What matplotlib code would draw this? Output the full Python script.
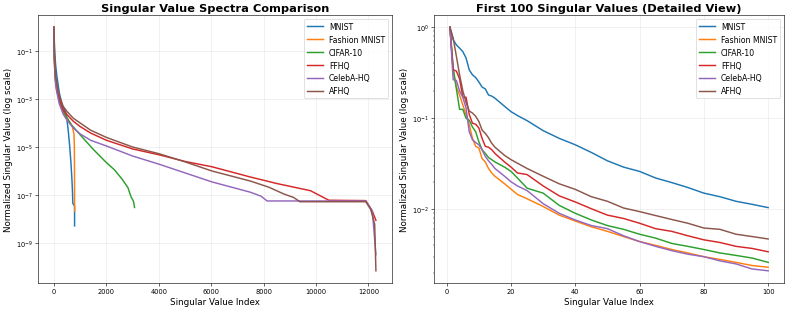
import numpy as np
import matplotlib
matplotlib.use('Agg')
from matplotlib import pyplot as plt

names = ['MNIST', 'Fashion MNIST', 'CIFAR-10', 'FFHQ', 'CelebA-HQ', 'AFHQ']

# full spectra, values read at a few indices
mnist_idx = [0, 10, 30, 60, 100, 200, 300, 400, 460, 530, 590, 640, 678, 700, 716, 782, 783]
mnist_val = [1.0, 0.25, 0.073, 0.026, 0.0104, 1.8e-3, 6.3e-4, 3.5e-4, 2.5e-4, 6.3e-5, 1.3e-5,
             2.5e-6, 5.2e-7, 1.6e-7, 4.4e-8, 3.5e-8, 5.1e-9]
fashion_idx = [0, 10, 30, 60, 100, 200, 345, 500, 600, 700, 760, 775, 780, 783]
fashion_val = [1.0, 0.047, 0.0107, 0.0044, 0.0023, 7.9e-4, 2.8e-4, 1.3e-4, 1.1e-4, 7.1e-5,
               3.5e-5, 1.0e-5, 1.0e-6, 2.1e-8]
cifar_idx = [0, 10, 30, 60, 100, 200, 345, 652, 1000, 1500, 2005, 2311, 2600, 2822, 2900,
             2950, 3000, 3040, 3071]
cifar_val = [1.0, 0.055, 0.015, 0.0053, 0.0026, 7.9e-4, 3.2e-4, 8.7e-5, 3.2e-5, 7.9e-6, 2.2e-6,
             1.1e-6, 4.5e-7, 2.0e-7, 1.1e-7, 7.8e-8, 6.3e-8, 5.0e-8, 3.0e-8]
ffhq_idx = [0, 10, 30, 60, 100, 200, 345, 500, 730, 1000, 1400, 2005, 3000, 4020, 5000, 6025,
            7492, 8500, 9789, 10172, 10490, 11900, 12150, 12287]
ffhq_val = [1.0, 0.078, 0.018, 0.0070, 0.0034, 1.1e-3, 3.6e-4, 2.2e-4, 1.2e-4, 7.1e-5, 3.8e-5,
            1.9e-5, 8.3e-6, 4.7e-6, 2.5e-6, 1.5e-6, 5.6e-7, 3.0e-7, 1.5e-7, 9.1e-8, 6.0e-8,
            5.8e-8, 2.1e-8, 8.7e-9]
celeba_idx = [0, 10, 30, 60, 100, 200, 345, 500, 730, 1000, 1400, 2005, 3000, 4020, 5000, 6025,
              7492, 7900, 8131, 11900, 12150, 12287]
celeba_val = [1.0, 0.051, 0.0115, 0.0044, 0.0021, 6.3e-4, 2.4e-4, 1.3e-4, 6.3e-5, 3.5e-5,
              1.9e-5, 1.1e-5, 4.2e-6, 1.9e-6, 8.3e-7, 3.5e-7, 1.3e-7, 8.9e-8, 5.6e-8, 5.6e-8,
              2.2e-8, 3.2e-10]
afhq_idx = [0, 10, 30, 60, 100, 200, 345, 500, 730, 1000, 1400, 2005, 3000, 4020, 5000, 6025,
            7492, 8200, 8768, 9151, 9381, 11900, 12087, 12240, 12287]
afhq_val = [1.0, 0.091, 0.023, 0.0094, 0.0047, 1.4e-3, 5.0e-4, 3.0e-4, 1.6e-4, 1.0e-4, 5.0e-5,
            2.5e-5, 1.0e-5, 5.2e-6, 2.4e-6, 1.0e-6, 3.8e-7, 2.1e-7, 1.1e-7, 7.8e-8, 5.2e-8,
            5.2e-8, 2.5e-8, 6.0e-9, 6.8e-11]

# first 100 values
top_idx = list(range(1, 16)) + [18, 20, 22, 25, 30, 35, 40, 45, 50, 55, 60, 65, 70, 75, 80,
                                85, 90, 95, 100]
mnist_top = [1.0, 0.73, 0.64, 0.59, 0.54, 0.46, 0.34, 0.30, 0.28, 0.25, 0.22, 0.21, 0.18, 0.175,
             0.166, 0.135, 0.118, 0.107, 0.094, 0.073, 0.060, 0.051, 0.042, 0.034, 0.029, 0.026,
             0.022, 0.0196, 0.0173, 0.0150, 0.0137, 0.0122, 0.0113, 0.0104]
fashion_top = [1.0, 0.33, 0.22, 0.18, 0.14, 0.11, 0.085, 0.060, 0.049, 0.047, 0.036, 0.033,
               0.028, 0.025, 0.023, 0.019, 0.0166, 0.0145, 0.013, 0.0107, 0.0086, 0.0074,
               0.0064, 0.0057, 0.0050, 0.0044, 0.0040, 0.0036, 0.0033, 0.0030, 0.0028, 0.0026,
               0.0024, 0.0023]
cifar_top = [1.0, 0.36, 0.21, 0.125, 0.125, 0.10, 0.095, 0.080, 0.071, 0.055, 0.045, 0.041,
             0.037, 0.035, 0.033, 0.029, 0.026, 0.022, 0.017, 0.015, 0.011, 0.0090, 0.0076,
             0.0066, 0.0060, 0.0053, 0.0048, 0.0042, 0.0039, 0.0036, 0.0033, 0.0031, 0.0029,
             0.0026]
ffhq_top = [1.0, 0.34, 0.33, 0.27, 0.17, 0.17, 0.11, 0.088, 0.086, 0.078, 0.060, 0.049, 0.048,
            0.045, 0.041, 0.033, 0.029, 0.025, 0.024, 0.018, 0.014, 0.012, 0.0101, 0.0086,
            0.0079, 0.0070, 0.0061, 0.0057, 0.0051, 0.0046, 0.0043, 0.0039, 0.0037, 0.0034]
celeba_top = [1.0, 0.265, 0.26, 0.20, 0.17, 0.13, 0.071, 0.058, 0.054, 0.051, 0.045, 0.038,
              0.034, 0.031, 0.028, 0.023, 0.020, 0.018, 0.016, 0.0115, 0.0090, 0.0076, 0.0066,
              0.0061, 0.0051, 0.0044, 0.0039, 0.0035, 0.0032, 0.0030, 0.0027, 0.0025, 0.0022,
              0.0021]
afhq_top = [1.0, 0.76, 0.48, 0.30, 0.20, 0.15, 0.12, 0.114, 0.105, 0.092, 0.074, 0.068, 0.061,
            0.053, 0.048, 0.039, 0.035, 0.032, 0.028, 0.023, 0.019, 0.0165, 0.0137, 0.0122,
            0.0103, 0.0094, 0.0085, 0.0077, 0.0070, 0.0062, 0.0060, 0.0053, 0.0050, 0.0047]

full = [(mnist_idx, mnist_val), (fashion_idx, fashion_val), (cifar_idx, cifar_val),
        (ffhq_idx, ffhq_val), (celeba_idx, celeba_val), (afhq_idx, afhq_val)]
tops = [mnist_top, fashion_top, cifar_top, ffhq_top, celeba_top, afhq_top]

fig = plt.figure(figsize=(15, 5.92), dpi=52.87)
ax1 = fig.add_axes([0.0479, 0.0927, 0.4464, 0.856])
ax2 = fig.add_axes([0.5473, 0.0927, 0.4414, 0.856])

for name, (ix, v) in zip(names, full):
    ax1.plot(ix, v, label=name, linewidth=2)
ax1.set_yscale('log')
ax1.set_title('Singular Value Spectra Comparison', fontsize=15.5, fontweight='bold')
ax1.set_xlabel('Singular Value Index', fontsize=12)
ax1.set_ylabel('Normalized Singular Value (log scale)', fontsize=12)
ax1.grid(True, alpha=0.3)
ax1.legend(fontsize=10.5, loc='upper right')

for name, v in zip(names, tops):
    ax2.plot(top_idx, v, label=name, linewidth=2)
ax2.set_yscale('log')
ax2.set_title('First 100 Singular Values (Detailed View)', fontsize=15.5, fontweight='bold')
ax2.set_xlabel('Singular Value Index', fontsize=12)
ax2.set_ylabel('Normalized Singular Value (log scale)', fontsize=12)
ax2.grid(True, alpha=0.3)
ax2.legend(fontsize=10.5, loc='upper right')

for ax in (ax1, ax2):
    ax.tick_params(labelsize=9)

fig.savefig('out.png', dpi=52.87)
